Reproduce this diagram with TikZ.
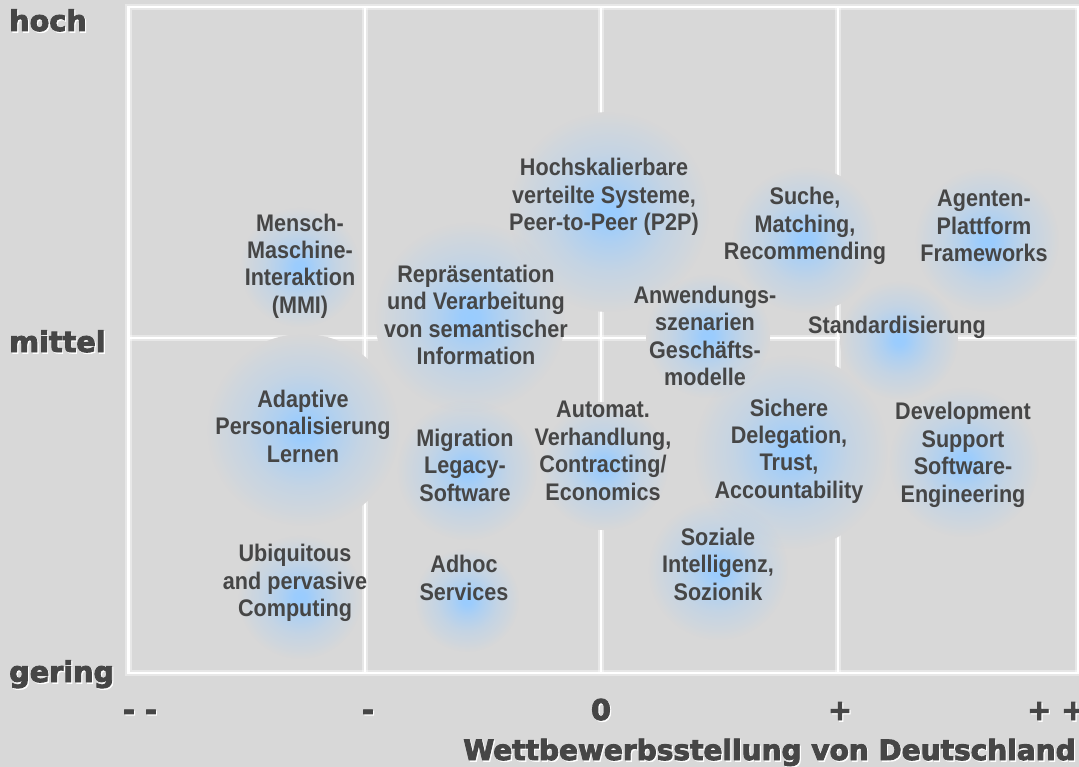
\documentclass[tikz,border=0pt]{standalone}
\usepackage{fontspec}
\usetikzlibrary{fadings}
\newfontfamily\narrowf[FakeStretch=0.9]{Liberation Sans}
\newfontfamily\blackf[FakeBold=3.2]{DejaVu Sans}
\definecolor{bgc}{HTML}{D8D8D8}
\definecolor{txtc}{HTML}{464646}
\definecolor{blobc}{HTML}{99CCFF}
\pgfdeclareradialshading{blobfadeshade}{\pgfpointorigin}{color(0bp)=(pgftransparent!0); color(2.5bp)=(pgftransparent!5); color(8bp)=(pgftransparent!38); color(15bp)=(pgftransparent!70); color(21bp)=(pgftransparent!87); color(25bp)=(pgftransparent!100); color(50bp)=(pgftransparent!100)}
\pgfdeclarefading{blobfade}{\pgfuseshading{blobfadeshade}}
\newcommand\shd[1]{\leavevmode\rlap{\kern0.9pt\raisebox{-1pt}{\color{white}#1}}#1}
\tikzset{
  lbl/.style={text=txtc, align=center, inner sep=0pt, font=\narrowf\bfseries\fontsize{18}{20.6}\selectfont},
  axl/.style={text=txtc, inner sep=0pt, font=\blackf\bfseries\fontsize{21.5}{24}\selectfont},
  gl/.style={draw=white, line width=4.6pt, opacity=0.4},
  gc/.style={draw=white, line width=2.2pt}
}
\begin{document}
\begin{tikzpicture}[x=0.75pt,y=-0.75pt]
\fill[bgc] (0,0) rectangle (1079,767);
\useasboundingbox (0,0) rectangle (1079,767);
% grid
\foreach \s in {gl,gc}{
  \draw[\s] (1085,7) -- (128.5,7) -- (128.5,673) -- (1085,673);
  \draw[\s] (1078.5,7) -- (1078.5,673);
  \draw[\s] (365,7) -- (365,673);
  \draw[\s] (601,7) -- (601,673);
  \draw[\s] (838,7) -- (838,673);
  \draw[\s] (128.5,338) -- (1085,338);
}
% blobs: hide lines
\foreach \x/\y/\r in {609/212/100, 300/267/60, 805/240/73, 987/240/72, 470/317/95, 708/336/62, 899/340/59, 303/430/96, 467/470/70, 604/466/64, 791/452/97, 964/462/75, 718/570/70, 300/597/62, 467/600/52}{
  \fill[bgc] (\x,\y) circle[radius=\r];
}
\foreach \x/\y/\r in {609/212/100, 300/267/60, 805/240/73, 987/240/72, 470/317/95, 708/336/62, 899/340/59, 303/430/96, 467/470/70, 604/466/64, 791/452/97, 964/462/75, 718/570/70, 300/597/62, 467/600/52}{
  \fill[blobc, path fading=blobfade] (\x,\y) circle[radius=\r];
}
% labels
\node[lbl] (hochsk) at (604,197) {Hochskalierbare\\verteilte Systeme,\\Peer-to-Peer (P2P)};
\node[lbl] (mmi) at (300,266) {Mensch-\\Maschine-\\Interaktion\\(MMI)};
\node[lbl] (suche) at (805,226) {Suche,\\Matching,\\Recommending};
\node[lbl] (agent) at (984,226) {Agenten-\\Plattform\\Frameworks};
\node[lbl] (repr) at (476,315) {Repräsentation\\und Verarbeitung\\von semantischer\\Information};
\node[lbl] (anw) at (705,336) {Anwendungs-\\szenarien\\Geschäfts-\\modelle};
\node[lbl] (std) at (897,327) {Standardisierung};
\node[lbl] (adapt) at (303,426) {Adaptive\\Personalisierung\\Lernen};
\node[lbl] (migr) at (465,465) {Migration\\Legacy-\\Software};
\node[lbl] (autom) at (603,451) {Automat.\\Verhandlung,\\Contracting/\\Economics};
\node[lbl] (sich) at (789,451) {Sichere\\Delegation,\\Trust,\\Accountability};
\node[lbl] (devel) at (963,455) {Development\\Support\\Software-\\Engineering};
\node[lbl] (sozial) at (718,564) {Soziale\\Intelligenz,\\Sozionik};
\node[lbl] (ubiq) at (295,583) {Ubiquitous\\and pervasive\\Computing};
\node[lbl] (adhoc) at (464,578) {Adhoc\\Services};
% axes
\node[axl, anchor=base west] (hoch) at (9,31) {\shd{hoch}};
\node[axl, anchor=base west] (mittel) at (9,352) {\shd{mittel}};
\node[axl, anchor=base west] (gering) at (9,682) {\shd{gering}};
\node[axl, anchor=base] (tmm) at (140,720) {\shd{- -}};
\node[axl, anchor=base] (tm) at (368,720) {\shd{-}};
\node[axl, anchor=base] (t0) at (601,720) {\shd{0}};
\node[axl, anchor=base] (tp) at (840,720) {\shd{+}};
\node[axl, anchor=base west] (tpp) at (1027,720) {\shd{+ +}};
\node[axl, anchor=base east, font=\blackf\bfseries\fontsize{21}{24}\selectfont] (xtitle) at (1076,760) {\shd{Wettbewerbsstellung von Deutschland}};
\end{tikzpicture}
\end{document}
